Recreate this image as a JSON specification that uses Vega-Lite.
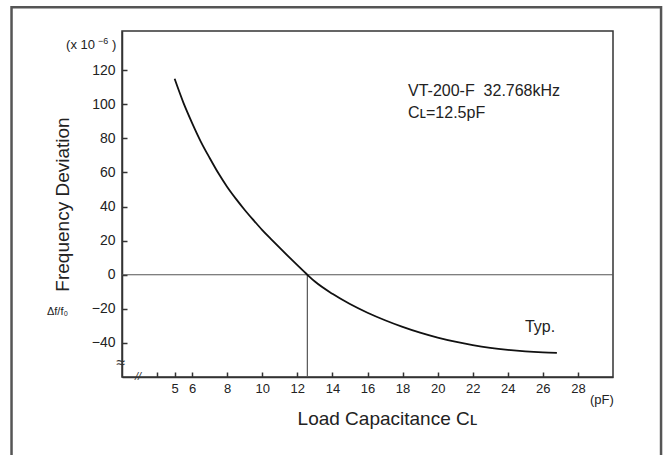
{
  "$schema": "https://vega.github.io/schema/vega-lite/v6.json",
  "width": 491,
  "height": 346,
  "autosize": {"type": "none"},
  "padding": {"left": 122, "top": 31, "right": 56, "bottom": 78},
  "background": "white",
  "config": {
    "view": {"stroke": "#333", "strokeWidth": 1.5},
    "font": "Liberation Sans, Arial, sans-serif",
    "axis": {
      "grid": false,
      "domainColor": "#333",
      "domainWidth": 1.5,
      "tickColor": "#333",
      "tickWidth": 1.5,
      "tickSize": -5,
      "labelColor": "#222",
      "titleColor": "#222",
      "titleFontWeight": "normal",
      "labelFont": "Liberation Sans, Arial, sans-serif",
      "titleFont": "Liberation Sans, Arial, sans-serif"
    }
  },
  "datasets": {
    "curve": [
      {"x": 5, "y": 115}, {"x": 5.5, "y": 101}, {"x": 6, "y": 89}, {"x": 6.5, "y": 78},
      {"x": 7, "y": 68.5}, {"x": 7.5, "y": 59.5}, {"x": 8, "y": 51.5}, {"x": 8.5, "y": 44.5},
      {"x": 9, "y": 38}, {"x": 9.5, "y": 32}, {"x": 10, "y": 26.2}, {"x": 10.5, "y": 20.9},
      {"x": 11, "y": 15.7}, {"x": 11.5, "y": 10.6}, {"x": 12, "y": 5.6}, {"x": 12.57, "y": 0},
      {"x": 13, "y": -4}, {"x": 14, "y": -11.2}, {"x": 15, "y": -17.2}, {"x": 16, "y": -22.3},
      {"x": 17, "y": -26.7}, {"x": 18, "y": -30.6}, {"x": 19, "y": -34}, {"x": 20, "y": -36.9},
      {"x": 21, "y": -39.3}, {"x": 22, "y": -41.3}, {"x": 23, "y": -42.9}, {"x": 24, "y": -44.1},
      {"x": 25, "y": -45}, {"x": 26, "y": -45.6}, {"x": 26.8, "y": -45.9}
    ],
    "frame": [{"x": -4.3, "x2": 32.74, "y": 157, "y2": -112}],
    "zeroLine": [{"x": 2, "x2": 30, "y": 0}],
    "vLine": [{"x": 12.57, "y": 0, "y2": -60}],
    "notes": [
      {"x": 18.31, "y": 107.8, "label": "VT-200-F\u00a0 32.768kHz"},
      {"x": 18.31, "y": 94.7, "label": "C\u029f=12.5pF"},
      {"x": 24.98, "y": -30.7, "label": "Typ."}
    ],
    "units": [
      {"x": -1.19, "y": 134.8, "label": "(x 10"},
      {"x": 1.43, "y": 134.8, "label": ")"},
      {"x": 28.69, "y": -73.5, "label": "(pF)"}
    ],
    "sup": [{"x": 0.63, "y": 137.3, "label": "\u22126"}],
    "delta": [{"x": -2.28, "y": -21.9, "label": "\u0394f/f\u2080"}],
    "ybreak": [{"x": 2, "y": -51.8, "label": "\u2248"}],
    "xbreak": [{"x": 2.91, "y": -60, "label": "//"}]
  },
  "encoding": {
    "x": {
      "field": "x",
      "type": "quantitative",
      "scale": {"domain": [2, 30], "nice": false, "zero": false},
      "axis": {
        "values": [4, 5, 6, 8, 10, 12, 14, 16, 18, 20, 22, 24, 26, 28],
        "labelExpr": "datum.value == 4 ? '' : datum.label",
        "labelFontSize": 13,
        "labelPadding": 10,
        "labelFlush": false,
        "title": "Load Capacitance C\u029f",
        "titleFontSize": 19,
        "titlePadding": 14,
        "titleX": 265
      }
    },
    "y": {
      "field": "y",
      "type": "quantitative",
      "scale": {"domain": [-60, 143], "nice": false, "zero": false},
      "axis": {
        "values": [-40, -20, 0, 20, 40, 60, 80, 100, 120],
        "labelExpr": "datum.value < 0 ? '\u2212' + abs(datum.value) : datum.label",
        "labelFontSize": 14,
        "labelPadding": 12,
        "labelFlush": false,
        "title": "Frequency Deviation",
        "titleFontSize": 19,
        "titlePadding": 19
      }
    }
  },
  "layer": [
    {
      "data": {"name": "frame"},
      "mark": {"type": "rect", "fill": "transparent", "stroke": "#555", "strokeWidth": 2.5},
      "encoding": {"x2": {"field": "x2"}, "y2": {"field": "y2"}}
    },
    {
      "data": {"name": "zeroLine"},
      "mark": {"type": "rule", "color": "#555", "strokeWidth": 1.2},
      "encoding": {"x2": {"field": "x2"}}
    },
    {
      "data": {"name": "vLine"},
      "mark": {"type": "rule", "color": "#555", "strokeWidth": 1.2},
      "encoding": {"y2": {"field": "y2"}}
    },
    {
      "data": {"name": "curve"},
      "mark": {"type": "line", "color": "#111", "strokeWidth": 1.8, "interpolate": "monotone"},
      "encoding": {}
    },
    {
      "data": {"name": "notes"},
      "mark": {"type": "text", "align": "left", "baseline": "middle", "fontSize": 16, "color": "#222"},
      "encoding": {"text": {"field": "label"}}
    },
    {
      "data": {"name": "units"},
      "mark": {"type": "text", "align": "left", "baseline": "middle", "fontSize": 13, "color": "#222"},
      "encoding": {"text": {"field": "label"}}
    },
    {
      "data": {"name": "sup"},
      "mark": {"type": "text", "align": "left", "baseline": "middle", "fontSize": 9, "color": "#222"},
      "encoding": {"text": {"field": "label"}}
    },
    {
      "data": {"name": "delta"},
      "mark": {"type": "text", "align": "left", "baseline": "middle", "fontSize": 11, "color": "#222"},
      "encoding": {"text": {"field": "label"}}
    },
    {
      "data": {"name": "ybreak"},
      "mark": {"type": "text", "align": "center", "baseline": "middle", "fontSize": 16, "color": "#333", "dx": -1},
      "encoding": {"text": {"field": "label"}}
    },
    {
      "data": {"name": "xbreak"},
      "mark": {"type": "text", "align": "center", "baseline": "middle", "fontSize": 11, "color": "#333", "fontStyle": "italic"},
      "encoding": {"text": {"field": "label"}}
    }
  ]
}
